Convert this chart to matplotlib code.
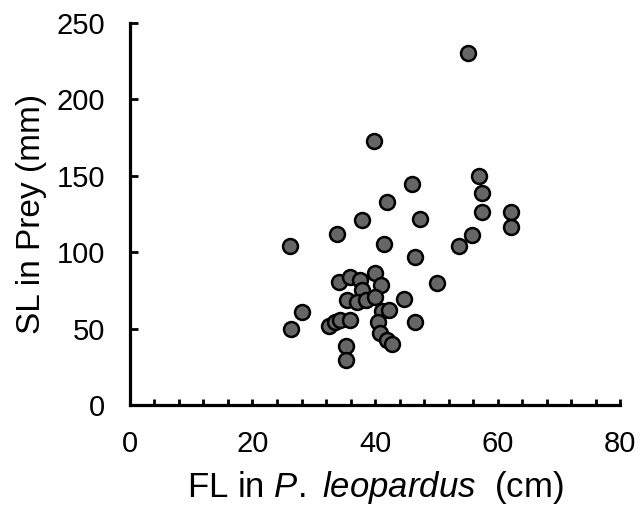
import matplotlib
matplotlib.use("Agg")
import matplotlib.pyplot as plt
import numpy as np

plt.rcParams['font.family'] = ['Liberation Sans', 'DejaVu Sans']
plt.rcParams['mathtext.fontset'] = 'custom'
plt.rcParams['mathtext.rm'] = 'Liberation Sans'
plt.rcParams['mathtext.it'] = 'Liberation Sans:italic'

# fork length of predator (cm) vs standard length of prey (mm)
fl_cm = [55.2, 39.8, 57.0, 46.1, 57.4, 42.0, 57.5, 62.2, 47.3, 37.8,
         62.2, 33.8, 55.8, 41.5, 26.1, 53.7, 46.6, 40.0, 50.1, 41.0,
         44.7, 28.0, 46.5, 26.3, 35.2, 35.2,
         34.2, 35.9, 37.6, 37.8, 35.4, 37.1, 38.6, 40.0,
         32.5, 33.4, 34.3, 35.9,
         41.1, 42.2, 40.5, 40.8, 41.9, 42.7]
sl_mm = [230.6, 172.5, 149.7, 144.3, 138.8, 132.7, 126.2, 126.2, 121.9, 120.8,
         116.4, 111.6, 111.4, 105.5, 103.8, 103.8, 96.8, 86.4, 80.1, 78.3,
         69.2, 60.9, 54.4, 49.6, 38.5, 29.4,
         80.5, 83.8, 82.0, 75.5, 68.5, 67.4, 69.0, 70.7,
         51.6, 54.0, 55.5, 55.9,
         61.6, 62.0, 54.4, 46.8, 42.4, 39.8]

x_major = [0, 20, 40, 60, 80]
y_major = [0, 50, 100, 150, 200, 250]

fig = plt.figure(figsize=(6.4, 5.17), dpi=100)
ax = fig.add_axes([0.203, 0.2166, 0.766, 0.739])

ax.scatter(fl_cm, sl_mm, s=115, facecolor='#666666', edgecolor='black',
           linewidth=1.8, zorder=3, clip_on=False)

ax.set_xlim(0, 80)
ax.set_ylim(0, 250)
for side in ['top', 'right']:
    ax.spines[side].set_visible(False)
for side in ['left', 'bottom']:
    ax.spines[side].set_linewidth(2.3)

ax.set_xticks(x_major)
ax.set_xticks(np.arange(4, 81, 4), minor=True)
ax.set_yticks(y_major)
ax.tick_params(axis='x', which='both', direction='in', length=4.5, width=2,
               pad=18, labelsize=21)
ax.tick_params(axis='y', which='major', direction='in', length=6, width=2,
               pad=18, labelsize=21)

ax.set_xlabel(r'FL in $\it{P.}$ $\it{leopardus}$  (cm)', fontsize=25, labelpad=8)
ax.set_ylabel('SL in Prey (mm)', fontsize=24, labelpad=7)

fig.savefig('out.png', dpi=100)
